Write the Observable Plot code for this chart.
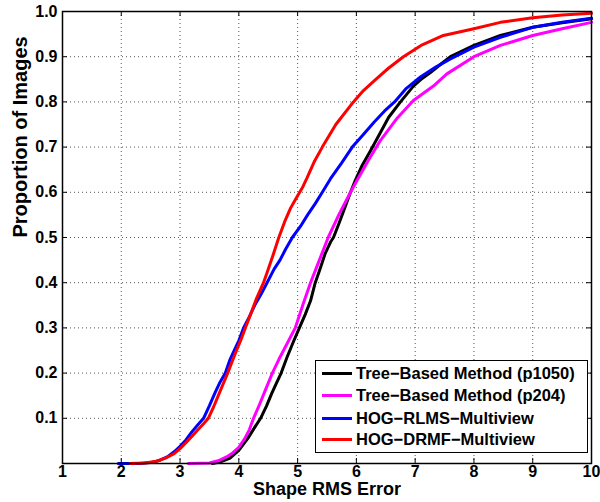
<!DOCTYPE html>
<html>
<head>
<meta charset="utf-8">
<script src="https://cdn.jsdelivr.net/npm/d3@7"></script>
<script src="https://cdn.jsdelivr.net/npm/@observablehq/plot@0.6"></script>
<style>
  html, body { margin: 0; padding: 0; background: #fff; }
  #wrap { position: relative; width: 600px; height: 502px; overflow: hidden; font-family: "Liberation Sans", Arial, Helvetica, sans-serif; }
  #legend { position: absolute; left: 315px; top: 360px; width: 271px; height: 91px; border: 1px solid #000; background: #fff; }
  .row { position: absolute; left: 0; height: 22px; display: flex; align-items: center; }
  .swatch { width: 30px; height: 3px; margin-left: 6px; margin-right: 4px; }
  .lab { font-size: 16.5px; font-weight: bold; color: #000; white-space: nowrap; }
</style>
</head>
<body>
<div id="wrap"></div>
<script>
const seriesNames = [
  "Tree\u2212Based Method (p1050)",
  "Tree\u2212Based Method (p204)",
  "HOG\u2212RLMS\u2212Multiview",
  "HOG\u2212DRMF\u2212Multiview"
];
const seriesColors = ["#000000", "#ff00ff", "#0000ff", "#ff0000"];

const treeP1050 = [[3.55,0],[3.7,0.004],[3.85,0.012],[4.0,0.029],[4.15,0.055],[4.27,0.08],[4.37,0.1],[4.47,0.127],[4.56,0.155],[4.64,0.178],[4.72,0.2],[4.82,0.235],[4.93,0.27],[5.03,0.3],[5.13,0.33],[5.22,0.36],[5.30,0.4],[5.38,0.43],[5.47,0.465],[5.56,0.49],[5.61,0.5],[5.70,0.53],[5.8,0.565],[5.9,0.6],[5.98,0.626],[6.1,0.66],[6.24,0.692],[6.4,0.73],[6.55,0.766],[6.75,0.8],[6.97,0.835],[7.1,0.85],[7.26,0.865],[7.45,0.885],[7.6,0.9],[8.0,0.925],[8.45,0.947],[9.0,0.965],[9.5,0.975],[10,0.984]];
const treeP204 = [[3.14,0],[3.5,0.001],[3.65,0.006],[3.8,0.015],[3.9,0.024],[4.0,0.036],[4.1,0.055],[4.18,0.075],[4.25,0.1],[4.35,0.13],[4.46,0.165],[4.57,0.2],[4.68,0.23],[4.8,0.26],[4.96,0.3],[5.1,0.355],[5.22,0.4],[5.37,0.45],[5.52,0.5],[5.7,0.55],[5.9,0.6],[6.01,0.626],[6.2,0.67],[6.41,0.715],[6.7,0.765],[6.97,0.803],[7.31,0.835],[7.54,0.862],[8.0,0.9],[8.45,0.925],[9.0,0.947],[9.5,0.962],[10,0.976]];
const hogRLMS = [[1.95,0],[2.3,0],[2.5,0.002],[2.65,0.007],[2.8,0.016],[2.9,0.026],[3.0,0.038],[3.1,0.052],[3.2,0.07],[3.3,0.085],[3.4,0.1],[3.5,0.128],[3.6,0.158],[3.68,0.18],[3.77,0.2],[3.85,0.23],[3.92,0.25],[4.0,0.272],[4.08,0.3],[4.18,0.325],[4.27,0.35],[4.38,0.375],[4.48,0.4],[4.6,0.43],[4.7,0.45],[4.8,0.475],[4.91,0.5],[5.05,0.525],[5.17,0.55],[5.3,0.575],[5.42,0.6],[5.56,0.63],[5.75,0.665],[5.93,0.7],[6.1,0.725],[6.3,0.755],[6.48,0.78],[6.65,0.8],[6.85,0.83],[7.09,0.855],[7.35,0.877],[7.6,0.895],[8.0,0.921],[8.45,0.943],[9.0,0.965],[9.5,0.976],[10,0.985]];
const hogDRMF = [[2.15,0],[2.4,0.001],[2.6,0.005],[2.75,0.012],[2.9,0.022],[3.0,0.033],[3.1,0.046],[3.2,0.06],[3.3,0.074],[3.4,0.088],[3.48,0.1],[3.57,0.125],[3.65,0.15],[3.73,0.175],[3.81,0.2],[3.9,0.23],[3.96,0.25],[4.04,0.275],[4.11,0.3],[4.2,0.33],[4.3,0.365],[4.42,0.4],[4.5,0.43],[4.58,0.46],[4.68,0.5],[4.78,0.535],[4.88,0.565],[4.98,0.588],[5.08,0.61],[5.16,0.632],[5.28,0.667],[5.42,0.7],[5.65,0.75],[5.95,0.8],[6.12,0.825],[6.33,0.85],[6.55,0.875],[6.8,0.9],[7.1,0.925],[7.48,0.947],[8.0,0.962],[8.45,0.976],[9.0,0.986],[9.5,0.992],[10,0.996]];

const xTicks = [1,2,3,4,5,6,7,8,9,10];
const yTicks = [0.1,0.2,0.3,0.4,0.5,0.6,0.7,0.8,0.9,1.0];
const xLabel = "Shape RMS Error";
const yLabel = "Proportion of Images";

const allSeries = [treeP1050, treeP204, hogRLMS, hogDRMF];
const rows = [];
allSeries.forEach((s, i) => s.forEach(([x, y]) => rows.push({series: seriesNames[i], x, y})));

const W = 600, H = 502;
const mL = 62, mR = 9, mT = 11, mB = 39;
const fw = W - mL - mR, fh = H - mT - mB;
const tickLen = 5;
const font = "'Liberation Sans', Arial, Helvetica, sans-serif";

const chart = Plot.plot({
  width: W, height: H,
  marginLeft: mL, marginRight: mR, marginTop: mT, marginBottom: mB,
  style: {fontFamily: font, background: "#fff", overflow: "visible"},
  x: {domain: [1, 10]},
  y: {domain: [0, 1]},
  color: {domain: seriesNames, range: seriesColors},
  marks: [
    Plot.gridX(xTicks.slice(1, -1), {stroke: "#444", strokeOpacity: 0.9, strokeWidth: 1, strokeDasharray: "1,3"}),
    Plot.gridY(yTicks.slice(0, -1), {stroke: "#444", strokeOpacity: 0.9, strokeWidth: 1, strokeDasharray: "1,3"}),
    Plot.line(rows, {x: "x", y: "y", z: "series", stroke: "series", strokeWidth: 3, strokeLinejoin: "round"}),
    Plot.tickX(xTicks, {x: d => d, insetTop: fh - tickLen, stroke: "#000", strokeWidth: 1}),
    Plot.tickX(xTicks, {x: d => d, insetBottom: fh - tickLen, stroke: "#000", strokeWidth: 1}),
    Plot.tickY(yTicks, {y: d => d, insetRight: fw - tickLen, stroke: "#000", strokeWidth: 1}),
    Plot.tickY(yTicks, {y: d => d, insetLeft: fw - tickLen, stroke: "#000", strokeWidth: 1}),
    Plot.frame({stroke: "#000", strokeWidth: 1.5}),
    Plot.axisX(xTicks, {tickSize: 0, tickPadding: 2, fontSize: 16, fontWeight: "bold", fill: "#000", label: null}),
    Plot.axisY(yTicks, {tickSize: 0, tickPadding: 5, fontSize: 16, fontWeight: "bold", fill: "#000", tickFormat: d3.format(".1f"), label: null}),
    Plot.text([xLabel], {frameAnchor: "bottom", text: d => d, dy: 31.2, fontSize: 18, fontWeight: "bold", fill: "#000"}),
    Plot.text([yLabel], {frameAnchor: "left", text: d => d, dx: -42, rotate: -90, fontSize: 20, fontWeight: "bold", fill: "#000"})
  ]
});

const wrap = document.getElementById("wrap");
wrap.appendChild(chart);

const legend = document.createElement("div");
legend.id = "legend";
const rowCenters = [12, 34.5, 57, 78.5];
seriesNames.forEach((name, i) => {
  const r = document.createElement("div");
  r.className = "row";
  r.style.top = (rowCenters[i] - 11) + "px";
  const sw = document.createElement("div");
  sw.className = "swatch";
  sw.style.background = seriesColors[i];
  const lb = document.createElement("span");
  lb.className = "lab";
  lb.textContent = name;
  r.appendChild(sw);
  r.appendChild(lb);
  legend.appendChild(r);
});
wrap.appendChild(legend);
</script>
</body>
</html>
